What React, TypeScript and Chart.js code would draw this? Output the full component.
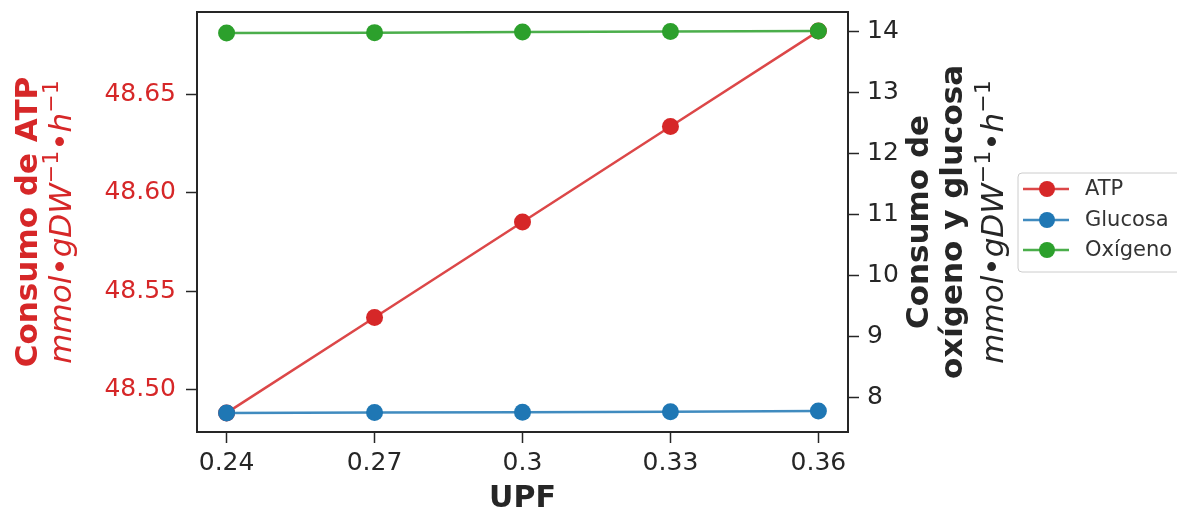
import React, { useEffect, useRef } from "react";
import { Chart, registerables } from "chart.js";

Chart.register(...registerables);

const upf = [0.24, 0.27, 0.3, 0.33, 0.36];
const xTickLabels = ["0.24", "0.27", "0.3", "0.33", "0.36"];
const atp = [48.4883, 48.5367, 48.5852, 48.6337, 48.6821];
const glucosa = [7.75, 7.755, 7.76, 7.77, 7.78];
const oxigeno = [13.975, 13.98, 13.99, 14.0, 14.005];
const leftTicks = [48.5, 48.55, 48.6, 48.65];
const rightTicks = [8, 9, 10, 11, 12, 13, 14];
const seriesNames = ["ATP", "Glucosa", "Oxígeno"];
const seriesColors = ["#d62728", "#1f77b4", "#2ca02c"];
const lineColors = ["rgba(214,39,40,0.85)", "rgba(31,119,180,0.85)", "rgba(44,160,44,0.85)"];

const FONT = "'DejaVu Sans', sans-serif";
const DARK = "#262626";
const TICK_SIZE = 25;
const TITLE_SIZE = 31;

type Seg = { t: string; kind: "b" | "it" | "up" | "sup" };

function drawRotated(ctx: CanvasRenderingContext2D, segs: Seg[], size: number, baselineX: number, cy: number, color: string) {
  const fontFor = (k: string) => {
    if (k === "b") return `bold ${size}px ${FONT}`;
    if (k === "it") return `oblique ${size}px ${FONT}`;
    if (k === "sup") return `${Math.round(size * 0.7)}px ${FONT}`;
    return `${size}px ${FONT}`;
  };
  let total = 0;
  const widths: number[] = [];
  for (const s of segs) {
    ctx.font = fontFor(s.kind);
    const w = ctx.measureText(s.t).width;
    widths.push(w);
    total += w;
  }
  ctx.save();
  ctx.translate(baselineX, cy);
  ctx.rotate(-Math.PI / 2);
  ctx.fillStyle = color;
  ctx.textBaseline = "alphabetic";
  ctx.textAlign = "left";
  let x = -total / 2;
  segs.forEach((s, i) => {
    ctx.font = fontFor(s.kind);
    const dy = s.kind === "sup" ? -size * 0.42 : 0;
    ctx.fillText(s.t, x, dy);
    x += widths[i];
  });
  ctx.restore();
}

const unitSegs: Seg[] = [
  { t: "mmol", kind: "it" },
  { t: "•", kind: "up" },
  { t: "gDW", kind: "it" },
  { t: "−1", kind: "sup" },
  { t: "•", kind: "up" },
  { t: "h", kind: "it" },
  { t: "−1", kind: "sup" },
];

const decorPlugin = {
  id: "decor",
  afterDraw(chart: any) {
    const ctx: CanvasRenderingContext2D = chart.ctx;
    const a = chart.chartArea;
    const cy = (a.top + a.bottom) / 2;
    // frame
    ctx.save();
    ctx.strokeStyle = DARK;
    ctx.lineWidth = 2;
    ctx.strokeRect(a.left, a.top, a.right - a.left, a.bottom - a.top);
    ctx.restore();

    // x title
    ctx.save();
    ctx.font = `bold 30px ${FONT}`;
    ctx.fillStyle = DARK;
    ctx.textAlign = "center";
    ctx.textBaseline = "alphabetic";
    ctx.fillText("UPF", (a.left + a.right) / 2, 507);
    ctx.restore();

    // left title
    drawRotated(ctx, [{ t: "Consumo de ATP", kind: "b" }], TITLE_SIZE, 37, cy, "#d62728");
    drawRotated(ctx, unitSegs, TITLE_SIZE, 71, cy, "#d62728");

    // right title
    drawRotated(ctx, [{ t: "Consumo de", kind: "b" }], TITLE_SIZE, 928, cy, DARK);
    drawRotated(ctx, [{ t: "oxígeno y glucosa", kind: "b" }], TITLE_SIZE, 962, cy, DARK);
    drawRotated(ctx, unitSegs, TITLE_SIZE, 1003, cy, DARK);

    // legend
    ctx.save();
    const lx = 1018, ly = 173, lw = 175, lh = 99, r = 4;
    ctx.beginPath();
    ctx.moveTo(lx + r, ly);
    ctx.lineTo(lx + lw - r, ly);
    ctx.arcTo(lx + lw, ly, lx + lw, ly + r, r);
    ctx.lineTo(lx + lw, ly + lh - r);
    ctx.arcTo(lx + lw, ly + lh, lx + lw - r, ly + lh, r);
    ctx.lineTo(lx + r, ly + lh);
    ctx.arcTo(lx, ly + lh, lx, ly + lh - r, r);
    ctx.lineTo(lx, ly + r);
    ctx.arcTo(lx, ly, lx + r, ly, r);
    ctx.closePath();
    ctx.fillStyle = "rgba(255,255,255,0.8)";
    ctx.fill();
    ctx.strokeStyle = "#cccccc";
    ctx.lineWidth = 1;
    ctx.stroke();
    const ys = [189, 220, 250];
    seriesNames.forEach((name, i) => {
      const y = ys[i];
      ctx.strokeStyle = lineColors[i];
      ctx.lineWidth = 2.5;
      ctx.beginPath();
      ctx.moveTo(1023, y);
      ctx.lineTo(1069, y);
      ctx.stroke();
      ctx.fillStyle = seriesColors[i];
      ctx.beginPath();
      ctx.arc(1047, y, 8, 0, Math.PI * 2);
      ctx.fill();
      ctx.fillStyle = "#333333";
      ctx.font = `21px ${FONT}`;
      ctx.textAlign = "left";
      ctx.textBaseline = "middle";
      ctx.fillText(name, 1085, y + 1);
    });
    ctx.restore();
  },
};

function toPoints(ys: number[]) {
  return upf.map((x, i) => ({ x, y: ys[i] }));
}

function zeroPad(s: any) {
  s.paddingTop = 0;
  s.paddingBottom = 0;
  s.paddingLeft = 0;
  s.paddingRight = 0;
}

export default function App() {
  const ref = useRef<HTMLCanvasElement | null>(null);
  useEffect(() => {
    if (!ref.current) return;
    const grid = {
      display: true,
      drawOnChartArea: false,
      drawTicks: true,
      tickLength: 11,
      tickWidth: 1.5,
      tickColor: DARK,
      color: DARK,
    };
    const chart = new Chart(ref.current, {
      type: "line",
      data: {
        datasets: [
          { label: seriesNames[0], data: toPoints(atp), yAxisID: "y", order: 2 },
          { label: seriesNames[1], data: toPoints(glucosa), yAxisID: "y1", order: 1 },
          { label: seriesNames[2], data: toPoints(oxigeno), yAxisID: "y1", order: 0 },
        ].map((d, i) => ({
          ...d,
          borderColor: lineColors[i],
          backgroundColor: seriesColors[i],
          pointBackgroundColor: seriesColors[i],
          pointBorderWidth: 0,
          pointRadius: 8.5,
          pointHoverRadius: 8.5,
          borderWidth: 2.5,
          tension: 0,
          fill: false,
        })),
      },
      options: {
        animation: false,
        responsive: false,
        maintainAspectRatio: false,
        layout: { padding: { top: 12, left: 0, right: 0, bottom: 0 } },
        plugins: { legend: { display: false }, tooltip: { enabled: false } },
        scales: {
          x: {
            type: "linear",
            min: 0.234,
            max: 0.366,
            afterBuildTicks: (s: any) => {
              s.ticks = upf.map((v) => ({ value: v }));
            },
            afterFit: (s: any) => {
              s.height = 78;
              zeroPad(s);
            },
            ticks: {
              color: DARK,
              font: { family: FONT, size: TICK_SIZE },
              padding: 5,
              maxRotation: 0,
              autoSkip: false,
              callback: (v: any) => {
                const i = upf.findIndex((u) => Math.abs(u - Number(v)) < 1e-6);
                return i >= 0 ? xTickLabels[i] : "";
              },
            },
            grid,
            border: { display: false },
          },
          y: {
            type: "linear",
            position: "left",
            min: 48.4786,
            max: 48.6918,
            afterBuildTicks: (s: any) => {
              s.ticks = leftTicks.map((v) => ({ value: v }));
            },
            afterFit: (s: any) => {
              s.width = 197;
              zeroPad(s);
            },
            ticks: {
              color: "#d62728",
              font: { family: FONT, size: TICK_SIZE },
              padding: 10,
              crossAlign: "near",
              autoSkip: false,
              callback: (v: any) => Number(v).toFixed(2),
            },
            grid,
            border: { display: false },
          },
          y1: {
            type: "linear",
            position: "right",
            min: 7.437,
            max: 14.318,
            afterBuildTicks: (s: any) => {
              s.ticks = rightTicks.map((v) => ({ value: v }));
            },
            afterFit: (s: any) => {
              s.width = 329;
              zeroPad(s);
            },
            ticks: {
              color: DARK,
              font: { family: FONT, size: TICK_SIZE },
              padding: 8,
              crossAlign: "near",
              autoSkip: false,
              callback: (v: any) => String(v),
            },
            grid,
            border: { display: false },
          },
        },
      },
      plugins: [decorPlugin],
    } as any);
    return () => chart.destroy();
  }, []);
  return (
    <div style={{ position: "absolute", left: 0, top: 0, width: 1177, height: 510, background: "#fff" }}>
      <canvas ref={ref} width={1177} height={510} style={{ width: 1177, height: 510, display: "block" }} />
    </div>
  );
}
